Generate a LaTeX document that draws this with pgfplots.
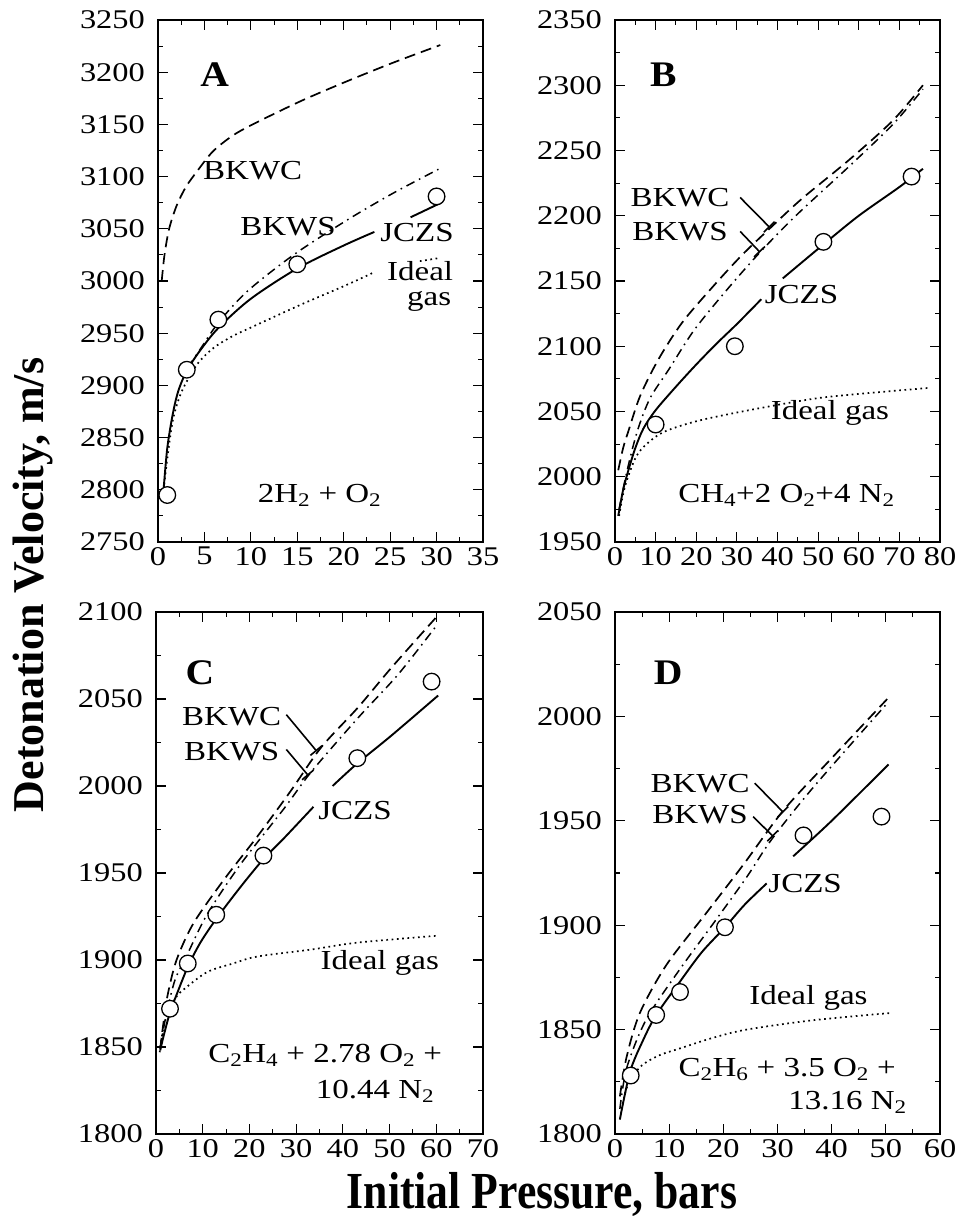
\documentclass[border=0pt]{standalone}
\usepackage{fontspec}
\setmainfont{Liberation Serif}[FakeStretch=1.2]
\newfontfamily\letterfont{Liberation Serif}[FakeStretch=1.1]
\newfontfamily\xlabfont{Liberation Serif}[FakeStretch=0.84]
\newfontfamily\ylabfont{Liberation Serif}
\usepackage{pgfplots}
\pgfplotsset{compat=1.18}
\usetikzlibrary{arrows.meta}

\newcommand{\lab}{\fontsize{27.5}{31}\selectfont}
\newcommand{\tlab}{\fontsize{27}{31}\selectfont}
\newcommand{\plab}{\letterfont\bfseries\fontsize{36}{40}\selectfont}
\tikzset{leader/.style={black, line width=1.6pt, -{Bar[width=15pt, line width=1.6pt]}}}
\pgfplotsset{
 panel/.style={
  scale only axis,
  width=325pt, height=522pt,
  axis line style={line width=1.2pt},
  tick align=inside, tick pos=both,
  major tick length=10pt, minor tick length=5pt,
  every tick/.append style={black, line width=1.1pt},
  minor x tick num=1, minor y tick num=1,
  tick label style={font=\tlab},
  /pgf/number format/assume math mode=true,
  /pgf/number format/1000 sep={},
  scaled ticks=false,
  xticklabel style={inner sep=2pt, yshift=-3pt},
  yticklabel style={inner sep=2pt, xshift=-11pt},
  clip=false,
 },
 bkwc/.style={black, line width=1.7pt, dash pattern=on 11pt off 6pt, smooth},
 bkws/.style={black, line width=1.5pt, dash pattern=on 9pt off 5pt on 1.6pt off 5pt, smooth},
 jczs/.style={black, line width=1.9pt, smooth},
 ideal/.style={black, line width=1.7pt, dash pattern=on 1.7pt off 3.6pt, smooth},
 expt/.style={black, only marks, mark=*, mark size=8.3pt, mark options={line width=1.3pt, fill=white, draw=black, solid}},
}

\begin{document}
\begin{tikzpicture}
\useasboundingbox (0,0) rectangle (961pt,1217pt);

% ---------------- Panel A ----------------
\begin{axis}[panel, at={(158pt,675pt)}, anchor=south west,
  xmin=0, xmax=35, ymin=2750, ymax=3250,
  xtick={0,5,...,35}, ytick={2750,2800,...,3250}]
\addplot[bkwc] coordinates {(0.4,3000) (0.7,3025) (1.2,3050) (2,3072) (3,3090) (4.2,3105) (5.9,3124) (8,3139) (10.2,3150) (15.3,3172) (20,3190) (25,3208) (30.4,3226)};
\addplot[bkws] coordinates {(3.2,2917) (4.5,2934) (6.5,2960) (9.6,2990) (14.6,3025) (20.3,3058) (25.3,3084) (30.2,3107)};
\addplot[jczs] coordinates {(0.6,2800) (1,2840) (1.6,2873) (2.2,2895) (3.1,2914) (4.5,2933) (6.5,2955) (10,2983) (15,3012) (20,3034) (23.3,3047)};
\addplot[jczs] coordinates {(27.2,3061) (30.5,3075)};
\addplot[ideal] coordinates {(0.6,2800) (1.5,2862) (2.5,2893) (4.2,2920) (6,2936) (8,2947) (9.9,2955) (15.3,2977) (20,2995) (23.2,3008)};
\addplot[ideal] coordinates {(28.2,3019) (30.3,3022)};
\addplot[expt] coordinates {(1,2795) (3.1,2915) (6.5,2963) (15,3016) (30,3081)};
\node[font=\plab] at (axis cs:6.1,3198) {A};
\node[font=\lab] at (axis cs:10.2,3106) {BKWC};
\node[font=\lab] at (axis cs:14.0,3052) {BKWS};
\node[font=\lab] at (axis cs:27.9,3046) {JCZS};
\node[font=\lab, anchor=east, inner sep=0pt] at (axis cs:31.8,3009) {Ideal};
\node[font=\lab, anchor=east, inner sep=0pt] at (axis cs:31.6,2980) {gas};
\node[font=\lab] at (axis cs:17.4,2795) {2H\textsubscript{2} + O\textsubscript{2}};
\end{axis}

% ---------------- Panel B ----------------
\begin{axis}[panel, at={(615pt,675pt)}, anchor=south west,
  xmin=0, xmax=80, ymin=1950, ymax=2350,
  xtick={0,10,...,80}, ytick={1950,2000,...,2350}]
\addplot[bkwc] coordinates {(0.8,2005) (2,2022) (3.3,2035) (6.2,2062) (10.7,2090) (16.5,2118) (23.9,2145) (31.3,2170) (38.7,2192) (46,2213) (57.7,2243) (68.4,2273) (75.8,2300)};
\addplot[bkws] coordinates {(1,1975) (3,2005) (5.5,2035) (8.6,2060) (13.2,2082) (19.4,2112) (27.2,2142) (35.4,2171) (44.5,2200) (57.7,2238) (68.4,2270) (75.8,2297)};
\addplot[jczs] coordinates {(0.8,1970) (2,1990) (3.3,2005) (5,2022) (7,2037) (10,2051) (15,2069) (20,2086) (25,2102) (30,2117) (36,2136)};
\addplot[jczs] coordinates {(41.3,2152) (51.3,2178) (60,2200) (70,2222) (75.8,2236)};
\addplot[ideal] coordinates {(1,1970) (2.5,1993) (5.3,2016) (8.5,2027) (12.5,2035) (20.6,2043) (33,2051) (49.4,2060) (62,2064) (77,2068)};
\addplot[expt] coordinates {(10,2040) (29.5,2100) (51.3,2180) (73,2230)};
\node[font=\plab] at (axis cs:11.9,2308) {B};
\node[font=\lab] at (axis cs:16,2214) {BKWC};
\node[font=\lab] at (axis cs:16,2188) {BKWS};
\draw[leader] (axis cs:30.8,2214) -- (axis cs:38.1,2191);
\draw[leader] (axis cs:30.8,2188) -- (axis cs:35.7,2172);
\node[font=\lab] at (axis cs:45.9,2140) {JCZS};
\node[font=\lab] at (axis cs:52.9,2049) {Ideal gas};
\node[font=\lab] at (axis cs:42.2,1986) {CH\textsubscript{4}+2 O\textsubscript{2}+4 N\textsubscript{2}};
\end{axis}

% ---------------- Panel C ----------------
\begin{axis}[panel, at={(156pt,83pt)}, anchor=south west, width=327pt,
  xmin=0, xmax=70, ymin=1800, ymax=2100,
  xtick={0,10,...,70}, ytick={1800,1850,...,2100}]
\addplot[bkwc] coordinates {(0.9,1849) (1.6,1864) (2.5,1880) (4.4,1900) (8,1921) (14.5,1946) (21.7,1971) (28.8,1997) (35.3,2022) (43.2,2045) (50.4,2068) (60,2097)};
\addplot[bkws] coordinates {(0.9,1849) (2,1866) (4,1888) (6.5,1902) (10.9,1926) (18.1,1955) (27.4,1987) (33.2,2008) (43.2,2039) (51.8,2064) (60,2092)};
\addplot[jczs] coordinates {(0.9,1848) (1.6,1856) (3,1870) (4.4,1880) (6.8,1896) (9.5,1910) (13,1924) (18.1,1942) (23,1958) (27.4,1970) (33.7,1988)};
\addplot[jczs] coordinates {(37.8,2000) (43.1,2013) (50.4,2029) (60.4,2052)};
\addplot[ideal] coordinates {(0.8,1847) (1.5,1860) (2.7,1871) (4.4,1879) (5.9,1883) (10.9,1893) (16.5,1898) (21.7,1902) (33.2,1906) (43.2,1910) (60.4,1914)};
\addplot[expt] coordinates {(3,1872) (6.8,1898) (12.9,1926) (23,1960) (43.1,2016) (59,2060)};
\node[font=\plab] at (axis cs:9.4,2065) {C};
\node[font=\lab] at (axis cs:16.2,2040) {BKWC};
\node[font=\lab] at (axis cs:16.2,2020) {BKWS};
\draw[leader] (axis cs:27.9,2041) -- (axis cs:34.4,2020);
\draw[leader] (axis cs:27.9,2021) -- (axis cs:32.6,2006);
\node[font=\lab] at (axis cs:42.6,1986) {JCZS};
\node[font=\lab] at (axis cs:47.9,1898.5) {Ideal gas};
\node[font=\lab, anchor=east] at (axis cs:62,1845) {C\textsubscript{2}H\textsubscript{4} + 2.78 O\textsubscript{2} +};
\node[font=\lab, anchor=east] at (axis cs:60.3,1824.5) {10.44 N\textsubscript{2}};
\end{axis}

% ---------------- Panel D ----------------
\begin{axis}[panel, at={(615pt,83pt)}, anchor=south west,
  xmin=0, xmax=60, ymin=1800, ymax=2050,
  xtick={0,10,...,60}, ytick={1800,1850,...,2050}]
\addplot[bkwc] coordinates {(0.9,1818) (2.15,1837) (4.6,1858) (9.5,1881) (16.9,1906) (23.7,1929) (31.1,1955) (40,1980) (50.5,2009)};
\addplot[bkws] coordinates {(0.9,1812) (2.2,1832) (5.8,1855) (12,1879) (18.2,1901) (24.3,1923) (28.9,1941) (36.6,1966) (50.5,2007)};
\addplot[jczs] coordinates {(0.9,1807) (2.8,1830) (5.2,1845) (7.6,1857) (12,1873) (16,1887) (20.3,1899) (24,1910) (28,1920)};
\addplot[jczs] coordinates {(32.9,1933) (40,1950) (50.5,1977)};
\addplot[ideal] coordinates {(0.9,1807) (2.15,1822) (4.6,1832) (8,1837.5) (12,1841) (18,1846) (24.3,1850) (36.6,1854.5) (51.1,1858)};
\addplot[expt] coordinates {(2.9,1828) (7.6,1857) (12,1868) (20.3,1899) (34.8,1943) (49.2,1952)};
\node[font=\plab] at (axis cs:9.8,2021) {D};
\node[font=\lab] at (axis cs:15.7,1968) {BKWC};
\node[font=\lab] at (axis cs:15.7,1953) {BKWS};
\draw[leader] (axis cs:25.8,1968) -- (axis cs:31.1,1954);
\draw[leader] (axis cs:25.5,1952) -- (axis cs:29.2,1942.5);
\node[font=\lab] at (axis cs:35.1,1920) {JCZS};
\node[font=\lab] at (axis cs:35.7,1865) {Ideal gas};
\node[font=\lab, anchor=east] at (axis cs:52.5,1831) {C\textsubscript{2}H\textsubscript{6} + 3.5 O\textsubscript{2} +};
\node[font=\lab, anchor=east] at (axis cs:54.5,1815) {13.16 N\textsubscript{2}};
\end{axis}

% axis titles
\node[rotate=90, anchor=base, font=\ylabfont\bfseries\fontsize{44}{48}\selectfont] at (43pt,632pt) {Detonation Velocity, m/s};
\node[anchor=base, font=\xlabfont\bfseries\fontsize{52}{56}\selectfont] at (542pt,9pt) {Initial Pressure, bars};
\end{tikzpicture}
\end{document}
